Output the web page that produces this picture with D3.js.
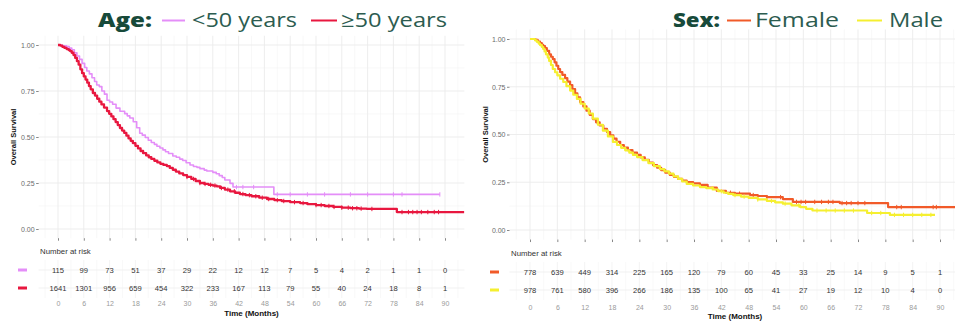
<!DOCTYPE html>
<html>
<head>
<meta charset="utf-8">
<script src="https://cdn.jsdelivr.net/npm/d3@7"></script>
<style>
  body { margin: 0; background: #fff; }
  svg { display: block; }
  text { font-family: "Liberation Sans", Arial, sans-serif; }
  .title { font-family: "Open Sans", "Noto Sans", sans-serif; }
</style>
</head>
<body>
<div id="chart"></div>
<script>
// ---- data ----
const timeTicks = [0, 6, 12, 18, 24, 30, 36, 42, 48, 54, 60, 66, 72, 78, 84, 90];
const survTicks = [0, 0.25, 0.5, 0.75, 1];

// Age: <50 years  [months, survival]
const ageUnder50 = [[0,1],[1,0.995],[2,0.991],[2.6,0.983],[3.2,0.974],[3.8,0.957],[4.4,0.94],
  [5,0.922],[5.6,0.9],[6.2,0.878],[6.7,0.859],[7.3,0.843],[7.9,0.822],[8.5,0.802],[9,0.783],
  [9.6,0.774],[10.2,0.75],[10.8,0.733],[11.4,0.7],[12,0.69],[12.7,0.678],[13.5,0.657],[14.4,0.64],
  [15.5,0.627],[16.1,0.615],[16.7,0.603],[17.5,0.583],[18.3,0.55],[19,0.52],[19.6,0.51],
  [20.3,0.497],[21,0.482],[21.7,0.47],[22.4,0.46],[23,0.45],[23.7,0.44],[24.4,0.43],[25,0.42],
  [25.7,0.41],[26.7,0.397],[27.5,0.39],[28.3,0.38],[29,0.372],[29.8,0.36],[30.7,0.348],
  [31.5,0.34],[32.3,0.335],[33,0.328],[34,0.32],[34.6,0.315],[36,0.308],[36.8,0.3],[37.5,0.29],
  [38.2,0.28],[38.8,0.266],[40,0.248],[40.7,0.228],[50.2,0.188],[88.8,0.188]];
const ageUnder50Censor = [41.5, 43, 45.5, 51, 54, 58, 62, 68, 72, 78, 80, 88.8];

// Age: >=50 years
const ageOver50 = [[0,1],[0.5,0.997],[1,0.99],[1.5,0.984],[2,0.978],[2.5,0.972],[2.8,0.967],
  [3.2,0.958],[3.6,0.945],[4,0.93],[4.4,0.912],[4.8,0.893],[5.2,0.868],[5.6,0.847],[6,0.829],
  [6.4,0.812],[6.8,0.795],[7.2,0.777],[7.6,0.759],[8.1,0.739],[8.6,0.725],[9.1,0.708],
  [9.6,0.692],[10.1,0.677],[10.7,0.66],[11.4,0.641],[11.9,0.626],[12.4,0.612],[12.9,0.597],
  [13.4,0.581],[13.9,0.565],[14.4,0.549],[14.9,0.535],[15.4,0.522],[15.9,0.507],[16.4,0.492],
  [16.9,0.479],[17.4,0.467],[18,0.452],[18.6,0.438],[19.2,0.424],[19.8,0.412],[20.5,0.4],
  [21.1,0.39],[21.7,0.381],[22.4,0.371],[23.1,0.362],[23.8,0.354],[24.5,0.348],[25.3,0.342],
  [26,0.332],[26.7,0.322],[27.4,0.312],[28.2,0.302],[29.1,0.293],[30,0.283],[31,0.272],
  [32,0.261],[33,0.25],[34,0.245],[35,0.24],[36,0.236],[36.9,0.232],[37.7,0.223],[38.8,0.214],
  [40,0.205],[41.2,0.197],[42.3,0.19],[43.6,0.184],[45,0.178],[46.8,0.17],[48.6,0.163],
  [50.3,0.157],[52,0.152],[54,0.146],[56.3,0.141],[58,0.135],[60,0.13],[62,0.125],[64,0.12],
  [66,0.116],[68,0.113],[70,0.111],[71.8,0.109],[78.8,0.092],[94.5,0.092]];
const ageOver50Censor = [30, 31.5, 33, 34.2, 35.5, 36.5, 38, 39.5, 41, 43, 44.5, 46, 47.5, 49,
  51, 52.5, 55, 57, 60, 61.2, 63, 64.2, 66, 67.5, 68.5, 69.5, 70.5, 73, 80, 81.5, 82.5, 83.5,
  84.5, 86, 87.5, 88.5];

// Sex: Female
const sexFemale = [[0,1],[0.7,1],[1.2,0.995],[1.7,0.987],[2.2,0.978],[2.6,0.97],[2.9,0.963],
  [3.3,0.952],[3.7,0.938],[4.2,0.92],[4.6,0.907],[5,0.895],[5.4,0.878],[5.8,0.86],[6.2,0.843],
  [6.6,0.827],[7.1,0.812],[7.7,0.795],[8.2,0.777],[8.8,0.759],[9.3,0.738],[9.9,0.715],
  [10.4,0.695],[11,0.67],[11.7,0.647],[12.4,0.625],[13.1,0.603],[13.8,0.581],[14.5,0.564],
  [15.3,0.547],[16.1,0.53],[16.9,0.513],[17.6,0.495],[18.3,0.478],[19,0.462],[19.8,0.445],
  [20.6,0.431],[21.5,0.418],[22.5,0.405],[23.5,0.393],[24.3,0.38],[25.2,0.367],[26.1,0.353],
  [27,0.34],[27.9,0.326],[28.8,0.313],[29.7,0.3],[30.7,0.288],[31.6,0.278],[32.5,0.268],
  [33.4,0.259],[34.4,0.251],[35.8,0.244],[37.3,0.236],[39,0.222],[41,0.205],[43,0.195],
  [45,0.19],[48.3,0.183],[50,0.178],[52,0.172],[55.5,0.162],[57.7,0.147],[68,0.141],
  [78.6,0.12],[94.5,0.12]];
const sexFemaleCensor = [44, 46, 49, 52, 55, 58.5, 59.5, 60.5, 62.5, 64, 65.5, 66.5, 68.5,
  69.5, 70.5, 72, 73.5, 80.5, 81.5, 88.5, 89.2];

// Sex: Male
const sexMale = [[0,1],[0.7,1],[1.1,0.993],[1.5,0.985],[1.9,0.976],[2.2,0.968],[2.6,0.958],
  [2.9,0.948],[3.2,0.935],[3.5,0.92],[3.9,0.903],[4.2,0.885],[4.6,0.864],[5,0.843],[5.5,0.826],
  [6,0.81],[6.6,0.792],[7.3,0.775],[8,0.753],[8.8,0.73],[9.5,0.708],[10.3,0.686],[11.1,0.661],
  [12,0.636],[12.9,0.61],[13.8,0.583],[14.9,0.551],[16,0.52],[17.1,0.49],[18.2,0.461],
  [19.1,0.445],[20,0.43],[20.9,0.417],[21.8,0.405],[22.6,0.393],[23.5,0.382],[24.7,0.366],
  [26,0.35],[27.2,0.334],[28.5,0.319],[29.5,0.307],[30.5,0.295],[31.5,0.281],[32.5,0.268],
  [33.4,0.254],[34.4,0.241],[35.8,0.233],[37.3,0.225],[38.7,0.219],[40.2,0.212],[41.3,0.203],
  [42.5,0.195],[43.5,0.189],[44.6,0.183],[46.3,0.175],[48,0.168],[50,0.16],[52,0.152],
  [53.8,0.145],[55.5,0.138],[57.4,0.129],[59.3,0.12],[60.6,0.111],[62,0.102],[74,0.089],
  [79,0.079],[88.9,0.079]];
const sexMaleCensor = [40, 42, 45, 47, 50, 53, 56, 59, 63, 65, 67, 69, 71, 75, 77, 80, 82,
  84, 86, 88];

// number at risk
const riskUnder50 = [115, 99, 73, 51, 37, 29, 22, 12, 12, 7, 5, 4, 2, 1, 1, 0];
const riskOver50 = [1641, 1301, 956, 659, 454, 322, 233, 167, 113, 79, 55, 40, 24, 18, 8, 1];
const riskFemale = [778, 639, 449, 314, 225, 165, 120, 79, 60, 45, 33, 25, 14, 9, 5, 1];
const riskMale = [978, 761, 580, 396, 266, 186, 135, 100, 65, 41, 27, 19, 12, 10, 4, 0];

// ---- drawing ----
const W = 955, H = 321;
const svg = d3.select("#chart").append("svg").attr("width", W).attr("height", H);

const panels = [
  {
    id: "age", x0: 58, x90: 445, y0: 229, y1: 45, ytitle: 13,
    riskTitleY: 251, rowY: [270, 288], tickLabY: 305, xtitleY: 313, keyX: 18, riskLeft: 40,
    title: {label: "Age:", x: 98, w: 54, y: 27},
    series: [
      {curve: ageUnder50, censor: ageUnder50Censor, risk: riskUnder50, color: "#e48ef8", width: 1.6,
       name: "<50 years", lx: [162, 185], tx: 192, tw: 105},
      {curve: ageOver50, censor: ageOver50Censor, risk: riskOver50, color: "#e8173f", width: 2.3,
       name: "≥50 years", lx: [311, 337], tx: 341, tw: 106}
    ]
  },
  {
    id: "sex", x0: 530, x90: 940, y0: 230, y1: 39, ytitle: 485,
    riskTitleY: 253, rowY: [272, 290], tickLabY: 309, xtitleY: 316, keyX: 490, riskLeft: 511,
    title: {label: "Sex:", x: 673, w: 47, y: 27},
    series: [
      {curve: sexFemale, censor: sexFemaleCensor, risk: riskFemale, color: "#f15a29", width: 2.2,
       name: "Female", lx: [727, 751], tx: 755, tw: 84},
      {curve: sexMale, censor: sexMaleCensor, risk: riskMale, color: "#f5ef30", width: 2.2,
       name: "Male", lx: [857, 882], tx: 889, tw: 54}
    ]
  }
];

function stepValue(curve, t) {
  const i = d3.bisector(d => d[0]).right(curve, t) - 1;
  return curve[Math.max(0, i)][1];
}

panels.forEach(p => {
  const g = svg.append("g").attr("class", "panel-" + p.id);
  const x = d3.scaleLinear().domain([0, 90]).range([p.x0, p.x90]);
  const y = d3.scaleLinear().domain([0, 1]).range([p.y0, p.y1]);
  const left = x(-4.5), right = Math.min(x(94.5), W);
  const top = y(1.05), bottom = y(-0.05);

  // grid
  const minorX = d3.range(-3, 94.5, 3).filter(v => v % 6 !== 0);
  const minorY = [0.125, 0.375, 0.625, 0.875];
  const grid = g.append("g");
  grid.selectAll(".gxm").data(minorX).join("line")
    .attr("x1", d => x(d)).attr("x2", d => x(d)).attr("y1", top).attr("y2", bottom)
    .attr("stroke", "#f3f3f3").attr("stroke-width", 0.6);
  grid.selectAll(".gym").data(minorY).join("line")
    .attr("x1", left).attr("x2", right).attr("y1", d => y(d)).attr("y2", d => y(d))
    .attr("stroke", "#f3f3f3").attr("stroke-width", 0.6);
  grid.selectAll(".gx").data(timeTicks).join("line")
    .attr("x1", d => x(d)).attr("x2", d => x(d)).attr("y1", top).attr("y2", bottom)
    .attr("stroke", "#ebebeb").attr("stroke-width", 0.9);
  grid.selectAll(".gy").data(survTicks).join("line")
    .attr("x1", left).attr("x2", right).attr("y1", d => y(d)).attr("y2", d => y(d))
    .attr("stroke", "#ebebeb").attr("stroke-width", 0.9);

  // y axis
  const yAxis = g.append("g").attr("transform", `translate(${left},0)`)
    .call(d3.axisLeft(y).tickValues(survTicks).tickFormat(d3.format(".2f")).tickSize(2.5).tickPadding(1.5));
  yAxis.select(".domain").remove();
  yAxis.selectAll("line").attr("stroke", "#555").attr("stroke-width", 0.7);
  yAxis.selectAll("text").attr("fill", "#6b6b6b").style("font-size", "7px");

  g.append("text")
    .attr("transform", `translate(${p.ytitle},${(y(0) + y(1)) / 2}) rotate(-90)`)
    .attr("text-anchor", "middle").attr("dy", "0.35em")
    .style("font-size", "7.5px").style("font-weight", "bold").attr("fill", "#111")
    .text("Overall Survival");

  // x ticks under the panel
  const xTicks = g.append("g").attr("transform", `translate(0,${bottom})`)
    .call(d3.axisBottom(x).tickValues(timeTicks).tickFormat("").tickSize(2.5));
  xTicks.select(".domain").remove();
  xTicks.selectAll("line").attr("stroke", "#555").attr("stroke-width", 0.7);

  // curves
  const clipId = "clip-" + p.id;
  svg.append("clipPath").attr("id", clipId).append("rect")
    .attr("x", left).attr("y", top).attr("width", right - left).attr("height", bottom - top);
  const lines = g.append("g").attr("clip-path", `url(#${clipId})`);
  const line = d3.line().x(d => x(d[0])).y(d => y(d[1])).curve(d3.curveStepAfter);
  p.series.forEach(s => {
    lines.append("path").datum(s.curve).attr("d", line)
      .attr("fill", "none").attr("stroke", s.color).attr("stroke-width", s.width)
      .attr("stroke-linejoin", "round");
    lines.selectAll(null).data(s.censor).join("line")
      .attr("x1", d => x(d)).attr("x2", d => x(d))
      .attr("y1", d => y(stepValue(s.curve, d)) - 2.2).attr("y2", d => y(stepValue(s.curve, d)) + 2.2)
      .attr("stroke", s.color).attr("stroke-width", 1);
  });

  // risk table
  const tTop = p.rowY[0] - 10, tBottom = p.rowY[1] + 10;
  const rg = g.append("g");
  rg.selectAll(".rgx").data(d3.range(-3, 94.5, 3)).join("line")
    .attr("x1", d => x(d)).attr("x2", d => x(d)).attr("y1", tTop).attr("y2", tBottom)
    .attr("stroke", d => d % 6 === 0 ? "#efefef" : "#f6f6f6").attr("stroke-width", 0.7);
  rg.selectAll(".rgy").data(p.rowY).join("line")
    .attr("x1", left).attr("x2", right).attr("y1", d => d).attr("y2", d => d)
    .attr("stroke", "#efefef").attr("stroke-width", 0.9);

  g.append("text").attr("x", p.riskLeft).attr("y", p.riskTitleY).attr("dy", "0.35em")
    .style("font-size", "7.8px").attr("fill", "#333").text("Number at risk");

  p.series.forEach((s, i) => {
    const ry = p.rowY[i];
    g.append("line").attr("x1", p.keyX).attr("x2", p.keyX + 9).attr("y1", ry).attr("y2", ry)
      .attr("stroke", s.color).attr("stroke-width", 3);
    g.append("g").selectAll("text").data(s.risk).join("text")
      .attr("x", (d, j) => x(timeTicks[j])).attr("y", ry).attr("dy", "0.35em")
      .attr("text-anchor", "middle").style("font-size", "7.6px").attr("fill", "#333")
      .text(d => d);
  });

  // time labels and title
  const xLab = g.append("g").attr("transform", `translate(0,${p.tickLabY - 4})`)
    .call(d3.axisBottom(x).tickValues(timeTicks).tickSize(0).tickPadding(0));
  xLab.select(".domain").remove();
  xLab.selectAll("text").attr("fill", "#9a9a9a").style("font-size", "7px");

  g.append("text").attr("x", (x(0) + x(90)) / 2).attr("y", p.xtitleY).attr("dy", "0.35em")
    .attr("text-anchor", "middle").style("font-size", "8px").style("font-weight", "bold")
    .attr("fill", "#111").text("Time (Months)");

  // header legend
  const t = p.title;
  g.append("text").attr("class", "title").attr("x", t.x).attr("y", t.y)
    .attr("textLength", t.w).attr("lengthAdjust", "spacingAndGlyphs")
    .style("font-size", "20px").style("font-weight", 800).attr("fill", "#174a3a").text(t.label);
  p.series.forEach(s => {
    g.append("line").attr("x1", s.lx[0]).attr("x2", s.lx[1]).attr("y1", 20.5).attr("y2", 20.5)
      .attr("stroke", s.color).attr("stroke-width", 2);
    g.append("text").attr("class", "title").attr("x", s.tx).attr("y", t.y)
      .attr("textLength", s.tw).attr("lengthAdjust", "spacingAndGlyphs")
      .style("font-size", "20px").attr("fill", "#2c5c50").text(s.name);
  });
});
</script>
</body>
</html>
